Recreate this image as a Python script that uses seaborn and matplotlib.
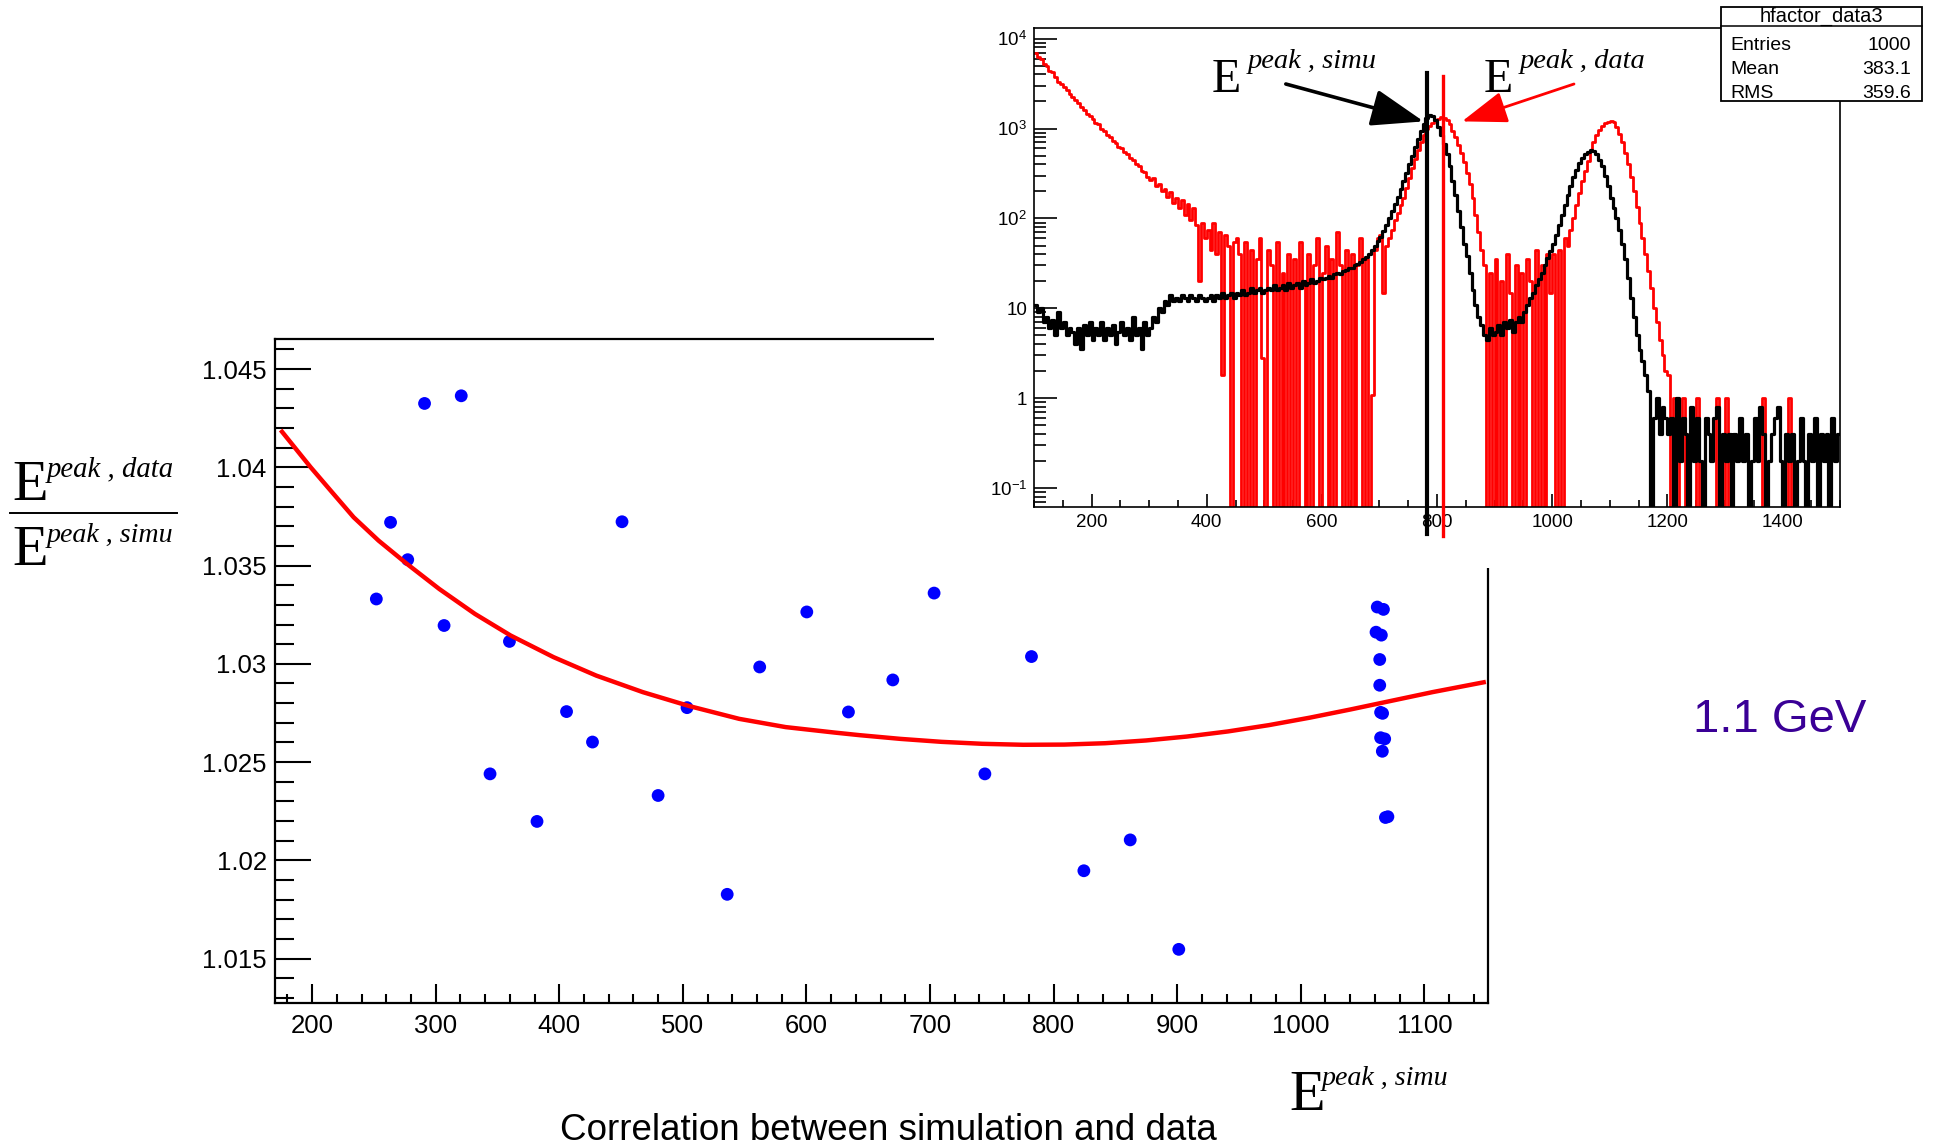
import numpy as np
import matplotlib
matplotlib.use("Agg")
import matplotlib.pyplot as plt
import seaborn as sns
from matplotlib.ticker import MultipleLocator, FuncFormatter, NullFormatter, FixedLocator
from matplotlib.patches import Rectangle
from matplotlib.lines import Line2D

# ---------------- data ----------------
scatter_x = [252, 263.5, 277.4, 291, 320.7, 306.8, 344, 359.7, 382, 405.9, 426.9, 450.8,
             480, 503.4, 535.9, 562.2, 600.3, 634, 669.9, 703.3, 744.4, 782.1, 824.5, 862,
             901.3, 1061.9, 1066.9, 1060.9, 1065.2, 1063.9, 1063.9, 1064.6, 1066.2, 1064.6,
             1067.9, 1066, 1068.5, 1070.5]
scatter_y = [1.0333, 1.0372, 1.0353, 1.04325, 1.04364, 1.03195, 1.0244, 1.03114, 1.02198,
             1.02757, 1.02602, 1.03723, 1.0233, 1.02777, 1.01827, 1.02984, 1.03264, 1.02755,
             1.02918, 1.0336, 1.0244, 1.03037, 1.01947, 1.02104, 1.01547, 1.03289, 1.03277,
             1.03161, 1.03146, 1.03022, 1.02891, 1.02753, 1.02748, 1.02624, 1.02618, 1.02555,
             1.02218, 1.02222]

fit_x = [175.7, 198.9, 216.2, 233.6, 253.8, 276.9, 302.9, 331.8, 360.7, 395.4, 430.0, 467.6,
         505.2, 545.6, 583.2, 623.1, 643.0, 676.2, 709.3, 742.4, 775.5, 808.6, 841.7, 874.8,
         907.9, 941.1, 974.2, 1007.3, 1040.4, 1073.5, 1106.6, 1148.0]
fit_y = [1.04181, 1.04000, 1.03873, 1.03746, 1.03627, 1.03508, 1.03381, 1.03254, 1.03144,
         1.03034, 1.02940, 1.02856, 1.02785, 1.02720, 1.02678, 1.02650, 1.02637, 1.02618,
         1.02603, 1.02593, 1.02588, 1.02589, 1.02596, 1.02610, 1.02630, 1.02656, 1.02688,
         1.02726, 1.02768, 1.02812, 1.02856, 1.02906]

# histogram contents, 5-unit bins from 100 to 1500 (one row = 50 units)
simu_rows = [
    [11, 9, 10, 7, 8, 6, 7.5, 5, 9, 6],
    [7, 5, 6, 5.5, 4, 6, 3.5, 6.5, 5, 7],
    [4.5, 6, 5, 7, 4.5, 6, 5, 6.5, 4, 5.5],
    [7, 5, 6, 4.5, 8, 5, 6, 3.5, 7, 5],
    [6, 8, 7, 10, 9, 12, 11, 14, 12, 13],
    [12, 14, 13, 12, 14, 13, 12, 14, 13, 12],
    [13, 14, 12, 14, 13, 15, 13, 14, 15, 13],
    [15, 14, 16, 14, 15, 17, 15, 16, 17, 15],
    [16, 17, 16, 18, 16, 17, 18, 16, 19, 17],
    [18, 19, 17, 20, 18, 19, 21, 19, 20, 22],
    [21, 22, 23, 22, 24, 25, 24, 26, 27, 28],
    [28, 30, 31, 33, 35, 37, 40, 45, 50, 56],
    [62, 72, 85, 100, 120, 145, 175, 210, 260, 320],
    [400, 500, 620, 770, 950, 1130, 1300, 1400, 1390, 1260],
    [1050, 850, 680, 520, 380, 260, 180, 120, 80, 52],
    [38, 25, 16, 11, 8, 6.5, 5, 4.5, 6, 5],
    [5.5, 6.5, 5, 7, 6, 7.5, 5.5, 7, 8, 7],
    [9, 11, 13, 15, 18, 21, 25, 30, 36, 44],
    [52, 65, 85, 110, 140, 180, 230, 290, 350, 410],
    [470, 520, 555, 575, 560, 520, 450, 380, 300, 230],
    [170, 130, 100, 75, 52, 35, 22, 13, 8, 5],
    [3.4, 2.6, 1.8, 1.2, 0, 0.6, 1.0, 0.4, 0.8, 0.6],
    [0.4, 0.6, 0, 1.0, 0.2, 0.6, 0.4, 0, 0.8, 0.2],
    [0.6, 0.2, 0, 0.6, 0.4, 0.2, 0.6, 0.8, 0, 0.4],
    [0.2, 0.4, 0, 0.4, 0.2, 0.6, 0.2, 0.4, 0, 0.2],
    [0.6, 0.2, 0.8, 0.4, 0, 0.2, 0.4, 0.6, 0.8, 0.2],
    [0, 0.4, 0.2, 0.4, 0, 0.2, 0.6, 0.2, 0, 0.4],
    [0.2, 0.6, 0, 0.4, 0.2, 0.4, 0, 0.6, 0.2, 0.4],
]
data_rows = [
    [6900, 6200, 5900, 5200, 4900, 4400, 4200, 3700, 3300, 3100],
    [2900, 2650, 2450, 2250, 2050, 1900, 1720, 1600, 1450, 1380],
    [1280, 1150, 1120, 980, 940, 840, 810, 720, 690, 620],
    [600, 550, 520, 470, 450, 400, 380, 340, 330, 290],
    [270, 280, 230, 240, 200, 215, 175, 195, 150, 170],
    [130, 160, 110, 145, 95, 130, 85, 20, 90, 60],
    [75, 45, 90, 40, 70, 1.8, 65, 50, 0, 55],
    [60, 40, 0, 55, 0, 45, 0, 35, 60, 2.8],
    [0, 45, 30, 0, 55, 0, 25, 0, 40, 0],
    [35, 0, 55, 20, 0, 40, 0, 30, 60, 0],
    [25, 50, 0, 35, 0, 70, 30, 0, 45, 0],
    [40, 0, 30, 60, 0, 35, 0, 1.1, 45, 60],
    [65, 15, 50, 60, 75, 95, 115, 140, 170, 220],
    [280, 360, 460, 580, 700, 850, 980, 1080, 1160, 1230],
    [1290, 1340, 1320, 1250, 1120, 950, 800, 650, 530, 420],
    [320, 240, 170, 110, 70, 45, 30, 0, 25, 0],
    [35, 0, 20, 0, 40, 15, 0, 30, 0, 25],
    [0, 35, 20, 0, 45, 0, 30, 0, 40, 15],
    [40, 0, 45, 0, 60, 50, 75, 100, 140, 190],
    [260, 340, 440, 560, 700, 840, 960, 1060, 1140, 1190],
    [1200, 1170, 1050, 880, 700, 540, 400, 290, 200, 135],
    [90, 60, 40, 26, 17, 10, 7, 4.5, 3, 2],
    [1.8, 0, 1, 0, 0.2, 1, 0, 0.2, 0, 0],
    [1, 0, 0, 0, 0, 0, 0, 1, 0, 0],
    [1, 0, 0, 0, 0, 0, 0, 0, 0, 0],
    [0, 0, 0, 1, 0, 0, 0, 0, 0, 0],
    [0, 0, 1, 0, 0, 0, 0, 0, 0, 0],
    [0, 0, 0, 0, 0, 0, 0, 0, 0, 0],
]
peak_simu = 783
peak_data = 811
stats_name = "hfactor_data3"
stats_rows = [("Entries", "1000"), ("Mean", "383.1"), ("RMS", "359.6")]
main_yticks_fmt = "{:g}"
inset_ytick_vals = [0.1, 1, 10, 100, 1000, 10000]
inset_ytick_labels = [r"$\mathsf{10}^{\mathsf{-1}}$", "1", "10", r"$\mathsf{10}^{\mathsf{2}}$",
                      r"$\mathsf{10}^{\mathsf{3}}$", r"$\mathsf{10}^{\mathsf{4}}$"]
title_text = "Correlation between simulation and data"
energy_text = "1.1 GeV"

# ---------------- figure ----------------
plt.rcParams["font.family"] = ["Liberation Sans", "DejaVu Sans"]
plt.rcParams["mathtext.fontset"] = "custom"
plt.rcParams["mathtext.rm"] = "Liberation Sans"
plt.rcParams["mathtext.sf"] = "Liberation Sans"
plt.rcParams["mathtext.it"] = "Liberation Serif:italic"

W, H = 1935, 1147
fig = plt.figure(figsize=(W / 100, H / 100), dpi=100)
fig.patch.set_facecolor("white")


def box(l, t, r, b):
    return [l / W, 1 - b / H, (r - l) / W, (b - t) / H]


def fp(x, y):
    return (x / W, 1 - y / H)


# main axes
ax = fig.add_axes(box(275, 339, 1488, 1003))
sns.scatterplot(x=scatter_x, y=scatter_y, ax=ax, color="#0000ff", s=85,
                edgecolor="none", linewidth=0, zorder=3)
sns.lineplot(x=fit_x, y=fit_y, ax=ax, color="#ff0000", lw=3.2, sort=False,
             estimator=None, zorder=4)
ax.set_xlim(170, 1151.5)
ax.set_ylim(1.01274, 1.04653)
ax.xaxis.set_major_locator(MultipleLocator(100))
ax.xaxis.set_minor_locator(MultipleLocator(20))
ax.yaxis.set_major_locator(MultipleLocator(0.005))
ax.yaxis.set_minor_locator(MultipleLocator(0.001))
ax.yaxis.set_major_formatter(FuncFormatter(lambda v, p: main_yticks_fmt.format(round(v, 3))))
ax.tick_params(axis="both", which="both", direction="in", width=1.5, colors="black",
               labelsize=18.5, top=False, right=False)
ax.tick_params(axis="y", which="major", length=26, pad=6)
ax.tick_params(axis="y", which="minor", length=13.5)
ax.tick_params(axis="x", which="major", length=13.5, pad=8)
ax.tick_params(axis="x", which="minor", length=6.5)
for s in ax.spines.values():
    s.set_linewidth(1.6)
    s.set_color("black")
ax.set_xlabel("")
ax.set_ylabel("")

# white pasted region behind the inset
fig.add_artist(Rectangle(fp(934, 568), (W - 934) / W, 568 / H, transform=fig.transFigure,
                         facecolor="white", edgecolor="none", zorder=1))

# inset histogram
simu_counts = np.array([v for row in simu_rows for v in row], dtype=float)
data_counts = np.array([v for row in data_rows for v in row], dtype=float)
centers = 100 + 5 * np.arange(len(simu_counts)) + 2.5

ax_in = fig.add_axes(box(1034, 28, 1840, 507))
ax_in.set_zorder(2)
ax_in.set_facecolor("white")
sns.histplot(x=centers, weights=data_counts, binwidth=5, binrange=(100, 1500), element="step",
             fill=False, color="#ff0000", linewidth=2.0, ax=ax_in)
sns.histplot(x=centers, weights=simu_counts, binwidth=5, binrange=(100, 1500), element="step",
             fill=False, color="black", linewidth=2.3, ax=ax_in)
ax_in.set_yscale("log")
ax_in.set_xlim(100, 1500)
ax_in.set_ylim(10 ** -1.209, 10 ** 4.118)
ax_in.set_xlabel("")
ax_in.set_ylabel("")
ax_in.xaxis.set_major_locator(MultipleLocator(200))
ax_in.xaxis.set_minor_locator(MultipleLocator(50))
ax_in.yaxis.set_major_locator(FixedLocator(inset_ytick_vals))
ax_in.set_yticklabels(inset_ytick_labels)
minor_vals = [m * 10.0 ** e for e in range(-2, 5) for m in range(2, 10)]
ax_in.yaxis.set_minor_locator(FixedLocator(minor_vals))
ax_in.yaxis.set_minor_formatter(NullFormatter())
ax_in.tick_params(axis="both", which="both", direction="in", width=1.2, labelsize=13.5,
                  top=False, right=False)
ax_in.tick_params(axis="y", which="major", length=16.5, pad=5)
ax_in.tick_params(axis="y", which="minor", length=8.5)
ax_in.tick_params(axis="x", which="major", length=9.4, pad=5)
ax_in.tick_params(axis="x", which="minor", length=4.8)
for s in ax_in.spines.values():
    s.set_linewidth(1.2)

ax_in.axvline(peak_simu, ymin=-0.056, ymax=0.906, color="black", lw=3.0, clip_on=False, zorder=5)
ax_in.axvline(peak_data, ymin=-0.06, ymax=0.90, color="#ff0000", lw=2.4, clip_on=False, zorder=5)

# arrows
ax_in.annotate("", xy=(1423.6, H - 121.4), xytext=(1285.8, H - 84), xycoords="figure pixels",
               textcoords="figure pixels",
               arrowprops=dict(arrowstyle="-|>,head_length=0.9,head_width=0.32", color="black",
                               lw=2.6, mutation_scale=36, shrinkA=0, shrinkB=0), zorder=6)
ax_in.annotate("", xy=(1462, H - 121.4), xytext=(1574, H - 84), xycoords="figure pixels",
               textcoords="figure pixels",
               arrowprops=dict(arrowstyle="-|>,head_length=0.85,head_width=0.3", color="#ff0000",
                               lw=2.0, mutation_scale=33, shrinkA=0, shrinkB=0), zorder=6)


def e_label(ex, ebase, sx, sbase, sup, esize, ssize, color="black"):
    fig.text(*fp(ex, ebase), "E", family="Liberation Serif", fontsize=esize, ha="left",
             va="baseline", color=color, zorder=12)
    fig.text(*fp(sx, sbase), sup, family="Liberation Serif", style="italic", fontsize=ssize,
             ha="left", va="baseline", color=color, zorder=12)


# inset labels
e_label(1212, 92, 1248, 68.3, "peak , simu", 34.5, 20.5)
e_label(1484, 92, 1520, 68.3, "peak , data", 34.5, 20.5)

# main axis labels
e_label(12, 500, 46.7, 477, "peak , data", 42, 20.7)
e_label(12, 565, 46.7, 541.7, "peak , simu", 42, 20.2)
fig.add_artist(Line2D([10 / W, 177 / W], [1 - 513 / H, 1 - 513 / H], color="black", lw=1.4,
                      transform=fig.transFigure))
e_label(1289, 1110, 1321.7, 1085, "peak , simu", 42, 20.2)

fig.text(*fp(888.5, 1140), title_text, fontsize=26.5, ha="center", va="baseline")
fig.text(*fp(1693, 731.7), energy_text, fontsize=34, ha="left", va="baseline", color="#3a0096")

# stats box
bl, bt, br, bb = 1720.7, 7.3, 1921.7, 100.7
fig.add_artist(Rectangle(fp(bl, bb), (br - bl) / W, (bb - bt) / H, transform=fig.transFigure,
                         facecolor="white", edgecolor="black", lw=1.3, zorder=10))
fig.add_artist(Line2D([bl / W, br / W], [1 - 26 / H, 1 - 26 / H], color="black", lw=1.1,
                      transform=fig.transFigure, zorder=11))
fig.text(*fp((bl + br) / 2, 22), stats_name, fontsize=14.5, ha="center", va="baseline", zorder=12)
for i, (k, v) in enumerate(stats_rows):
    yb = 50 + 24 * i
    fig.text(*fp(1730.7, yb), k, fontsize=14, ha="left", va="baseline", zorder=12)
    fig.text(*fp(1910.7, yb), v, fontsize=14, ha="right", va="baseline", zorder=12)

fig.savefig("out.png", dpi=100, facecolor="white")
